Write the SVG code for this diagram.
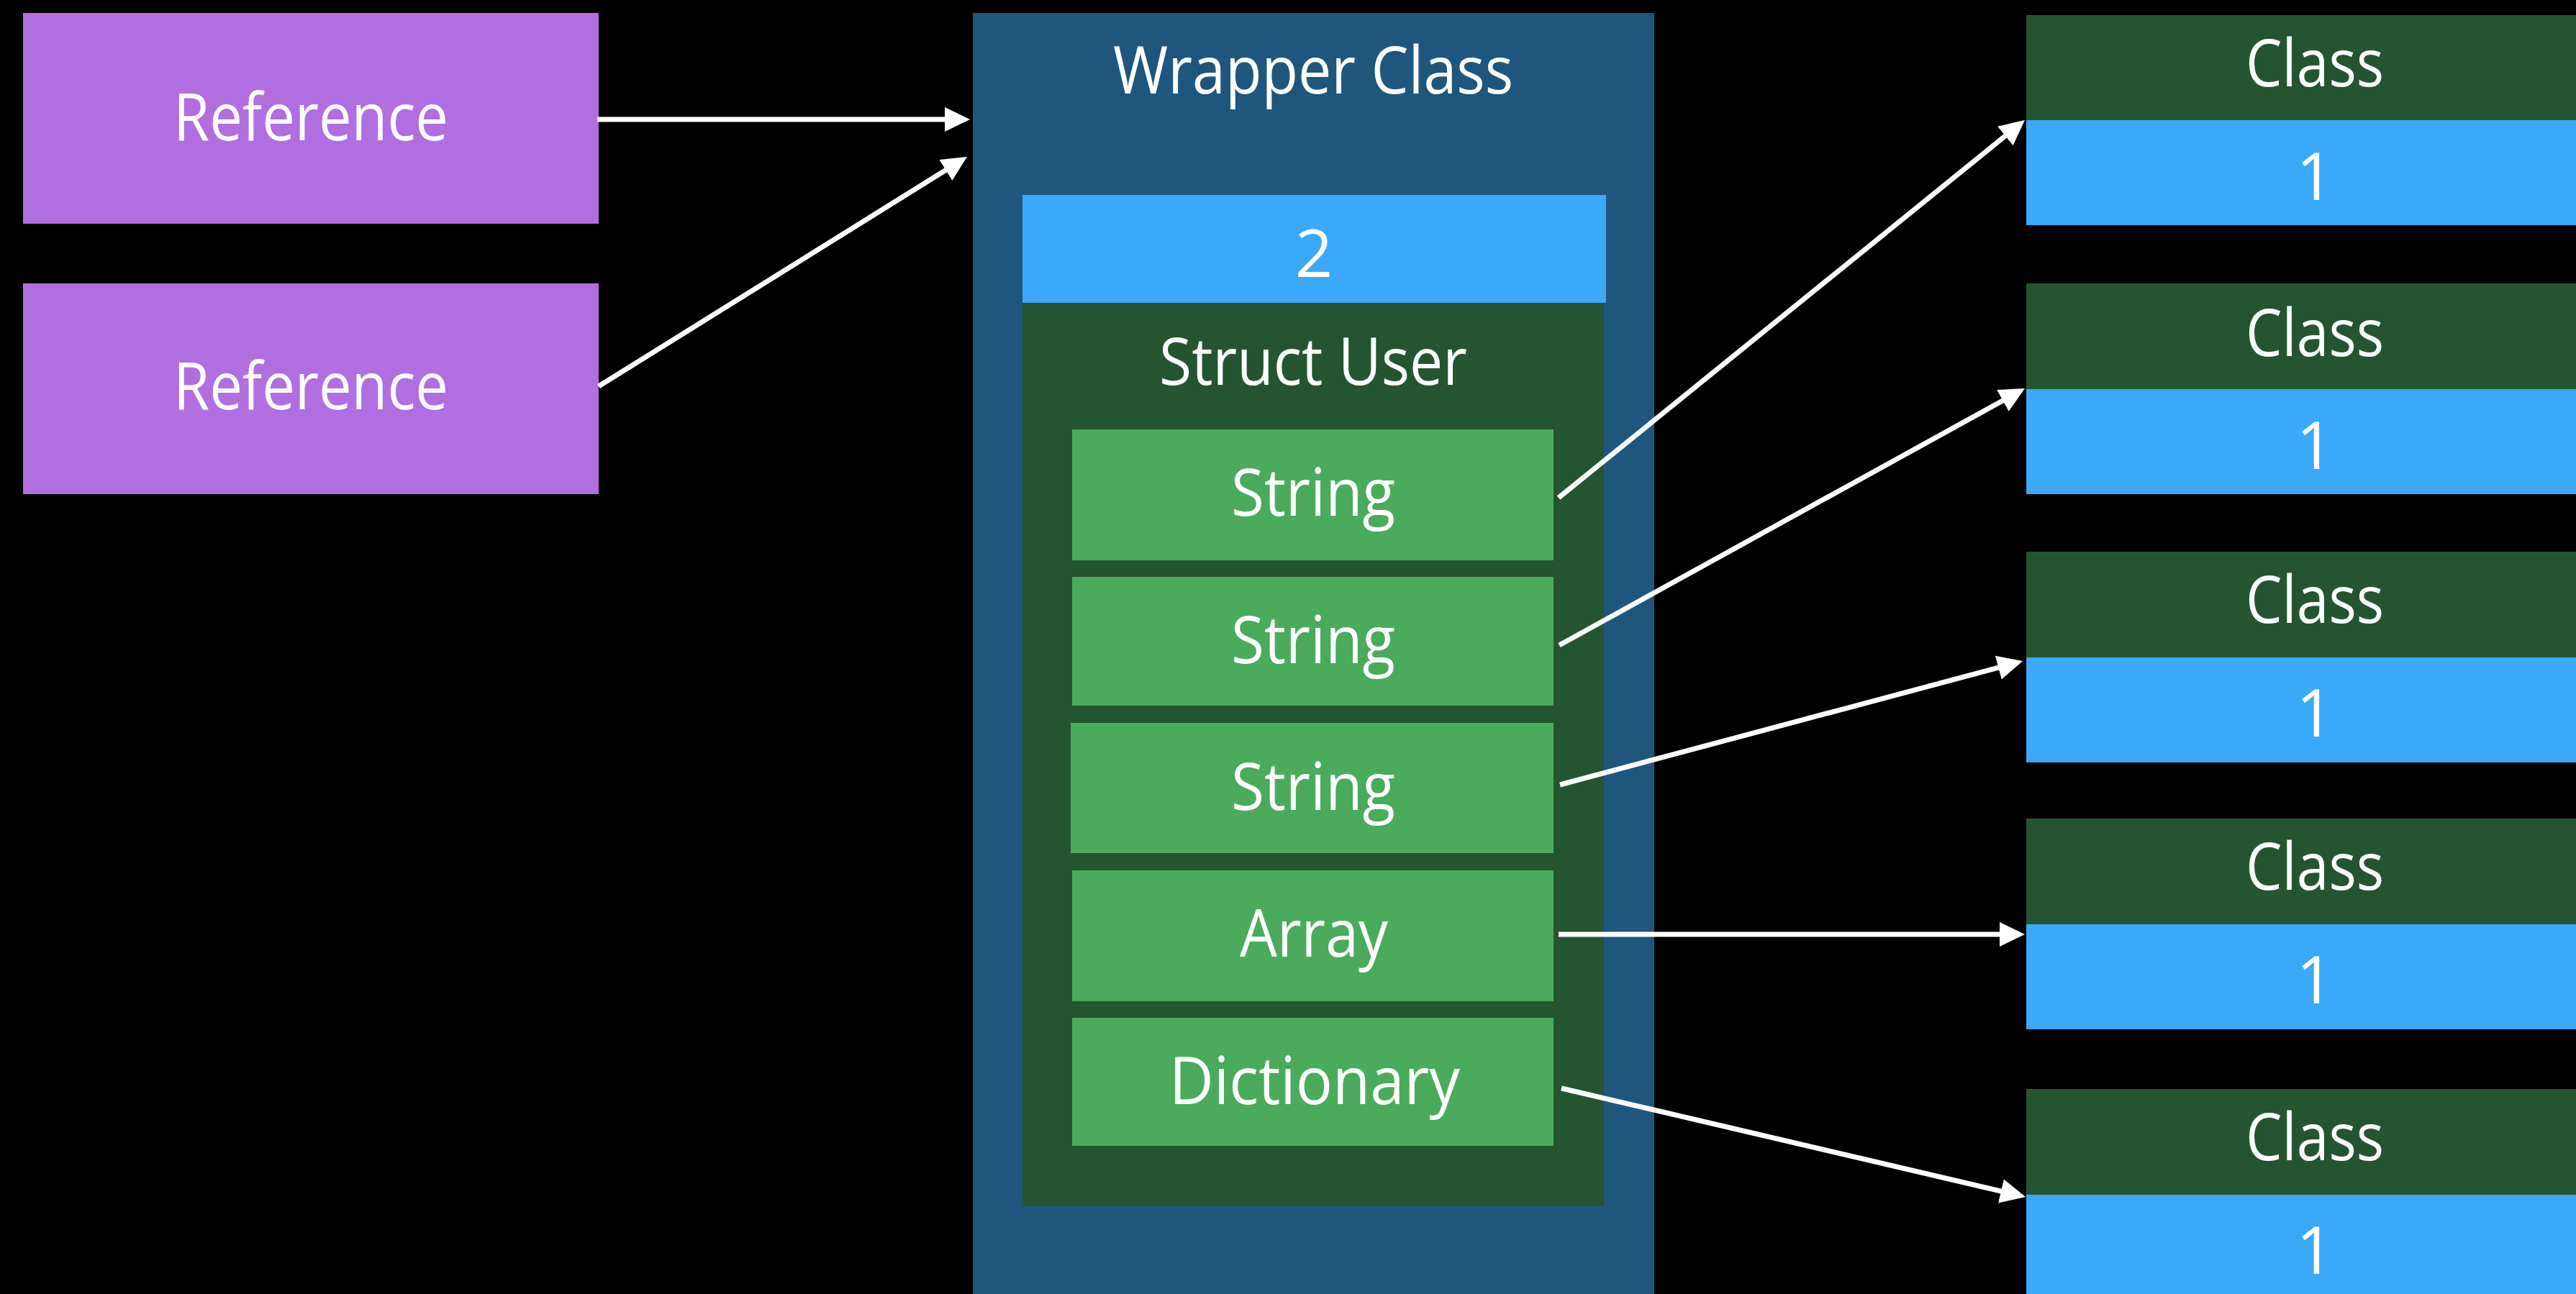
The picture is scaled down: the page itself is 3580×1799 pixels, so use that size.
<svg xmlns="http://www.w3.org/2000/svg" width="3580" height="1799" viewBox="0 0 3580 1799">
<style>
.t{font-family:"Open Sans","Liberation Sans",sans-serif;font-size:92px;fill:#ffffff;text-anchor:middle}
.purple{fill:#B16EE0}
.wrap{fill:#1F567D}
.lblue{fill:#3BA8F9}
.dgreen{fill:#255530}
.green{fill:#4AAB5C}
.conn{stroke:#ffffff;stroke-width:7;fill:none}
</style>
<defs>
<marker id="ah" markerUnits="userSpaceOnUse" markerWidth="36" markerHeight="36" refX="27" refY="17" orient="auto">
<path d="M0,0 L35,17 L0,34 z" fill="#ffffff"/>
</marker>
</defs>
<rect x="0" y="0" width="3580" height="1799" fill="#000000"/>
<g id="ref1">
<rect class="purple" x="32" y="18" width="800" height="293"/>
<text class="t" x="432" y="195" textLength="382" lengthAdjust="spacingAndGlyphs">Reference</text>
</g>
<g id="ref2">
<rect class="purple" x="32" y="394" width="800" height="293"/>
<text class="t" x="432" y="569" textLength="382" lengthAdjust="spacingAndGlyphs">Reference</text>
</g>
<g id="wrapper">
<rect class="wrap" x="1352" y="18" width="947" height="1800"/>
<text class="t" x="1825" y="130" textLength="556" lengthAdjust="spacingAndGlyphs">Wrapper Class</text>
</g>
<g id="refcount2">
<rect class="lblue" x="1421" y="271" width="811" height="150"/>
<text class="t" x="1826" y="385">2</text>
</g>
<g id="struct">
<rect class="dgreen" x="1421" y="421" width="808" height="1256"/>
<text class="t" x="1825" y="535" textLength="428" lengthAdjust="spacingAndGlyphs">Struct User</text>
</g>
<g id="string1">
<rect class="green" x="1490" y="597" width="669" height="182"/>
<text class="t" x="1825" y="717" textLength="228" lengthAdjust="spacingAndGlyphs">String</text>
</g>
<g id="string2">
<rect class="green" x="1490" y="802" width="669" height="179"/>
<text class="t" x="1825" y="922" textLength="228" lengthAdjust="spacingAndGlyphs">String</text>
</g>
<g id="string3">
<rect class="green" x="1488" y="1005" width="671" height="181"/>
<text class="t" x="1825" y="1126" textLength="228" lengthAdjust="spacingAndGlyphs">String</text>
</g>
<g id="array">
<rect class="green" x="1490" y="1210" width="669" height="182"/>
<text class="t" x="1826" y="1330" textLength="206" lengthAdjust="spacingAndGlyphs">Array</text>
</g>
<g id="dictionary">
<rect class="green" x="1490" y="1415" width="669" height="178"/>
<text class="t" x="1827" y="1535" textLength="404" lengthAdjust="spacingAndGlyphs">Dictionary</text>
</g>
<g id="class1">
<rect class="dgreen" x="2816" y="21" width="802" height="146"/>
<rect class="lblue" x="2816" y="167" width="802" height="146"/>
<text class="t" x="3217" y="120" textLength="192" lengthAdjust="spacingAndGlyphs">Class</text>
<text class="t" x="3217" y="278">1</text>
</g>
<g id="class2">
<rect class="dgreen" x="2816" y="394" width="802" height="147"/>
<rect class="lblue" x="2816" y="541" width="802" height="146"/>
<text class="t" x="3217" y="495" textLength="192" lengthAdjust="spacingAndGlyphs">Class</text>
<text class="t" x="3217" y="652">1</text>
</g>
<g id="class3">
<rect class="dgreen" x="2816" y="767" width="802" height="147"/>
<rect class="lblue" x="2816" y="914" width="802" height="146"/>
<text class="t" x="3217" y="866" textLength="192" lengthAdjust="spacingAndGlyphs">Class</text>
<text class="t" x="3217" y="1024">1</text>
</g>
<g id="class4">
<rect class="dgreen" x="2816" y="1138" width="802" height="147"/>
<rect class="lblue" x="2816" y="1285" width="802" height="146"/>
<text class="t" x="3217" y="1237" textLength="192" lengthAdjust="spacingAndGlyphs">Class</text>
<text class="t" x="3217" y="1395">1</text>
</g>
<g id="class5">
<rect class="dgreen" x="2816" y="1514" width="802" height="147"/>
<rect class="lblue" x="2816" y="1661" width="802" height="146"/>
<text class="t" x="3217" y="1613" textLength="192" lengthAdjust="spacingAndGlyphs">Class</text>
<text class="t" x="3217" y="1771">1</text>
</g>
<g id="connectors">
<line class="conn" x1="830" y1="166" x2="1340" y2="166" marker-end="url(#ah)"/>
<line class="conn" x1="832" y1="537" x2="1337.2" y2="222.2" marker-end="url(#ah)"/>
<line class="conn" x1="2166" y1="692" x2="2807.8" y2="172" marker-end="url(#ah)"/>
<line class="conn" x1="2167" y1="897" x2="2807" y2="543.9" marker-end="url(#ah)"/>
<line class="conn" x1="2168" y1="1091" x2="2803.3" y2="921.1" marker-end="url(#ah)"/>
<line class="conn" x1="2166" y1="1299" x2="2806" y2="1299" marker-end="url(#ah)"/>
<line class="conn" x1="2170" y1="1513" x2="2807.2" y2="1662.2" marker-end="url(#ah)"/>
</g>
</svg>
